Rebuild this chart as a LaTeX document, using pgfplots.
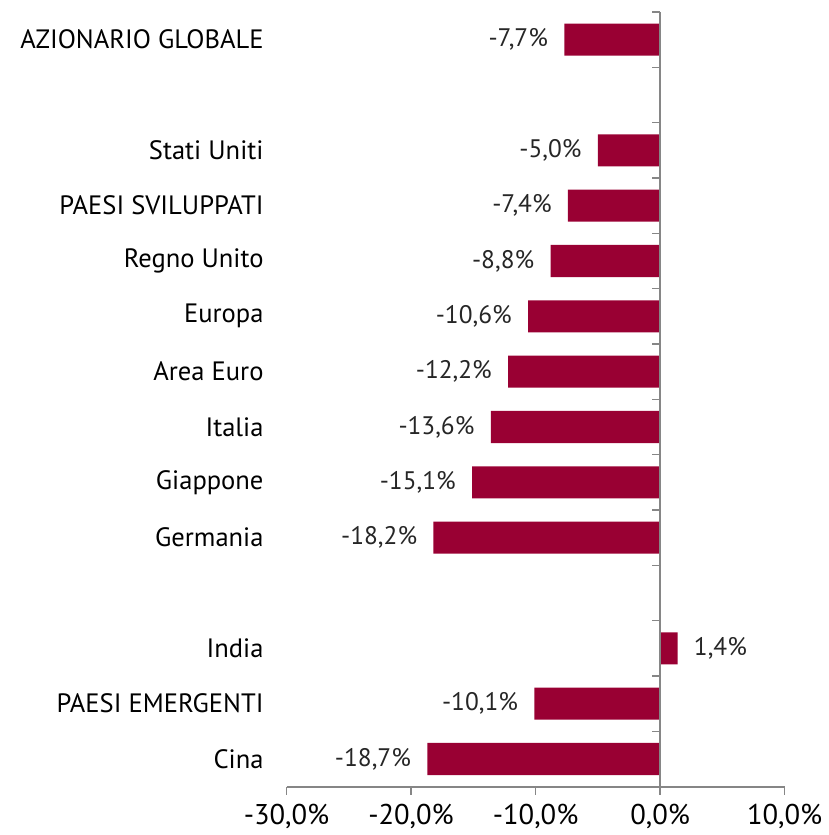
\documentclass[border=0pt]{standalone}
\usepackage{fontspec}
\setmainfont{PT Sans}
\usepackage{pgfplots}
\usepackage{pgfplotstable}
\pgfplotsset{compat=1.18}
\definecolor{barred}{RGB}{153,0,51}
\definecolor{axisgray}{RGB}{134,134,134}
\definecolor{labgray}{RGB}{38,38,38}

% posizione (0 = in alto) e variazione %
\pgfplotstableread{
y v
0 -7.7
2 -5.0
3 -7.4
4 -8.8
5 -10.6
6 -12.2
7 -13.6
8 -15.1
9 -18.2
11 1.4
12 -10.1
13 -18.7
}\perf

\begin{document}
\begin{tikzpicture}
\begin{axis}[
    name=ax,
    scale only axis,
    width=249.5pt,
    height=388pt,
    xbar,
    bar width=0.58,
    font=\fontsize{13.3pt}{15pt}\selectfont,
    xmin=-30, xmax=10,
    ymin=-0.5, ymax=13.5,
    y dir=reverse,
    axis x line*=bottom,
    axis y line*=left,
    y axis line style={draw=none},
    x axis line style={axisgray, line width=0.8pt},
    xtick={-30,-20,-10,0,10},
    xticklabels={{-30,0\%},{-20,0\%},{-10,0\%},{0,0\%},{10,0\%}},
    xtick style={axisgray, line width=0.8pt},
    tick align=outside,
    major tick length=4pt,
    ytick={0,2,3,4,5,6,7,8,9,11,12,13},
    yticklabels={AZIONARIO GLOBALE,Stati Uniti,PAESI SVILUPPATI,Regno Unito,Europa,Area Euro,Italia,Giappone,Germania,India,PAESI EMERGENTI,Cina},
    ytick style={draw=none},
    yticklabel style={xshift=-4pt},
    xticklabel style={yshift=-1pt, font=\fontsize{14.3pt}{16pt}\selectfont},
    point meta=x,
    nodes near coords={\pgfmathprintnumber[fixed,fixed zerofill,precision=1,use comma,assume math mode=true]{\pgfplotspointmeta}\%},
    nodes near coords style={text=labgray, inner sep=8pt, font=\fontsize{12.7pt}{15pt}\selectfont},
    clip=false,
]
\addplot[fill=barred, draw=none] table[x=v, y=y] {\perf};
\draw[axisgray, line width=0.8pt] (axis cs:0,-0.5) -- (axis cs:0,13.5);
\pgfplotsinvokeforeach{-0.5,0.5,...,13.5}{
  \draw[axisgray, line width=0.8pt] (axis cs:0,#1) -- ([xshift=-4pt]axis cs:0,#1);
}
\end{axis}
\path (ax.south west) ++(-143.5pt,-23.5pt) rectangle ++(412.5pt,417.5pt);
\end{tikzpicture}
\end{document}
